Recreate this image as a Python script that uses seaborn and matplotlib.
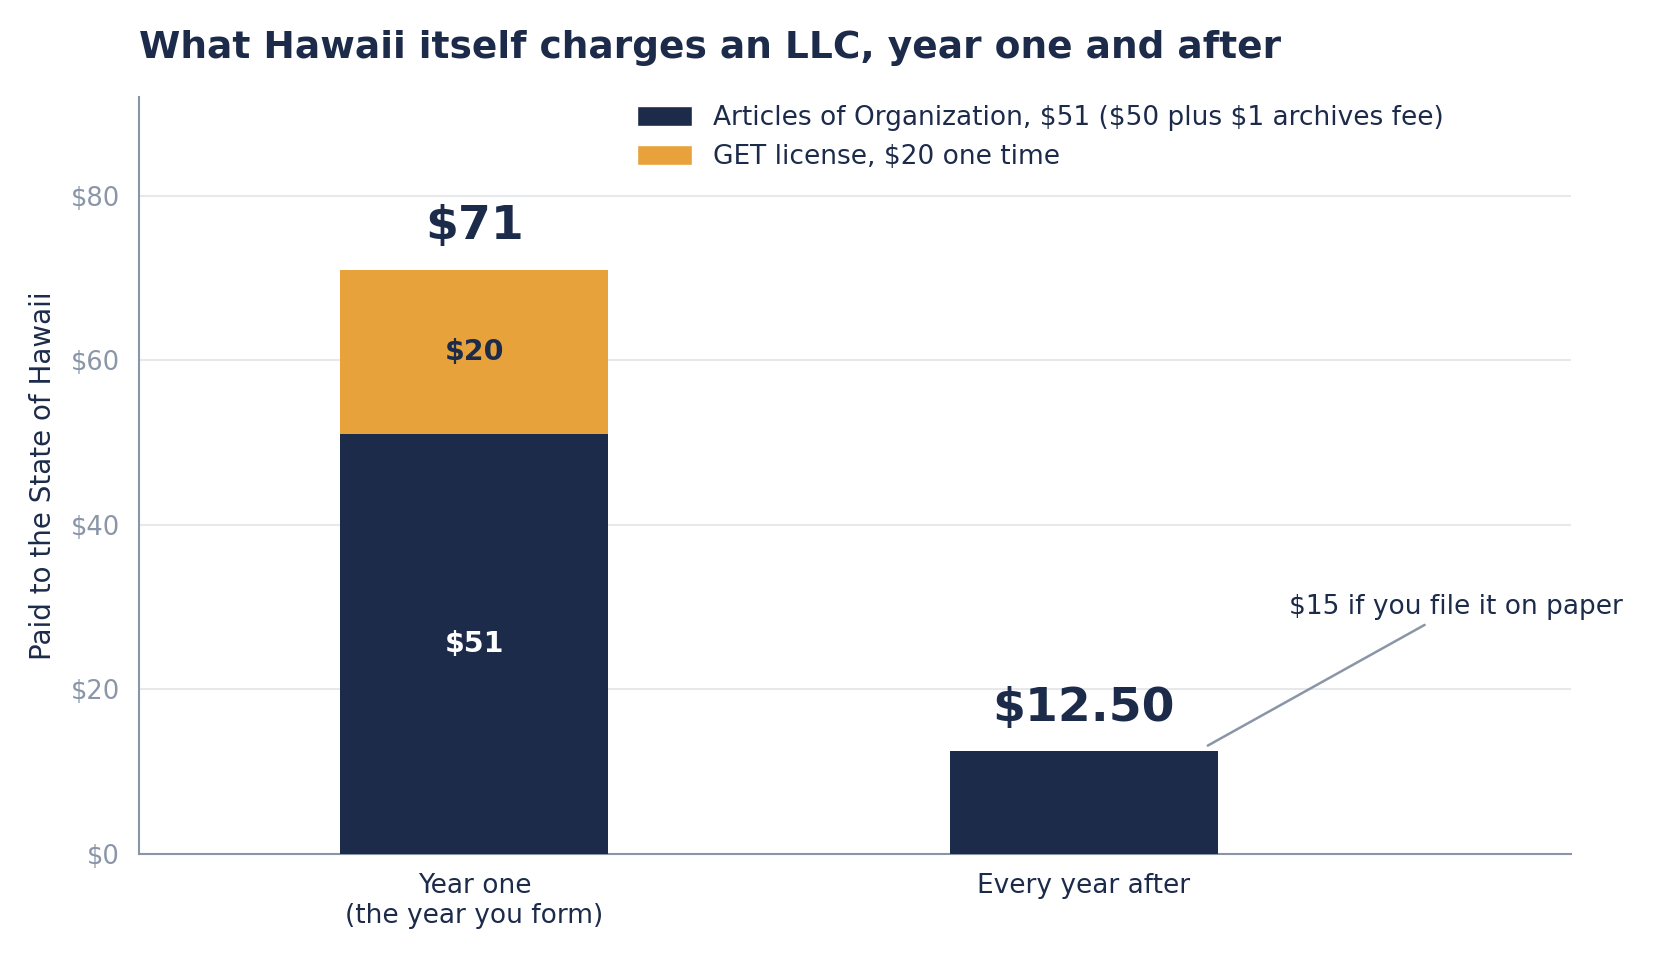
import matplotlib
matplotlib.use("Agg")
import matplotlib.pyplot as plt
import seaborn as sns
from matplotlib.patches import Patch

# data
categories = ["Year one\n(the year you form)", "Every year after"]
state_fees = [51, 12.5]
get_license = [20, 0]
legend_labels = ["Articles of Organization, $51 ($50 plus $1 archives fee)",
                 "GET license, $20 one time"]
total_labels = ["$71", "$12.50"]
y_ticks = [0, 20, 40, 60, 80]

NAVY = "#1d2b4b"
ORANGE = "#e8a23c"
GREY = "#8a96a8"
GRID = "#e6e8ec"

totals = [a + b for a, b in zip(state_fees, get_license)]

sns.set_style("white")
plt.rcParams["font.family"] = ["DejaVu Sans"]

fig = plt.figure(figsize=(16.8, 9.6), dpi=100)
ax = fig.add_axes([0.083, 0.1105, 0.852, 0.7885])

# orange totals underneath, navy base fee drawn on top
sns.barplot(x=categories, y=totals, color=ORANGE, saturation=1, width=0.44, ax=ax,
            zorder=2, linewidth=0)
sns.barplot(x=categories, y=state_fees, color=NAVY, saturation=1, width=0.44, ax=ax,
            zorder=3, linewidth=0)

ax.set_xlim(-0.55, 1.8)
ax.set_ylim(0, 92)
ax.set_yticks(y_ticks)
ax.set_yticklabels([f"${v}" for v in y_ticks])
ax.yaxis.grid(True, color=GRID, lw=1.5, zorder=0)
ax.set_axisbelow(True)

for side in ["top", "right"]:
    ax.spines[side].set_visible(False)
for side in ["left", "bottom"]:
    ax.spines[side].set_color(GREY)
    ax.spines[side].set_linewidth(1.5)

ax.tick_params(axis="y", colors=GREY, labelsize=18.5, length=6, width=1.2, pad=8)
ax.tick_params(axis="x", colors=GREY, labelcolor=NAVY, labelsize=19, length=6, width=1.2, pad=8)
ax.set_ylabel("Paid to the State of Hawaii", fontsize=20, color=NAVY, labelpad=10)
ax.set_xlabel("")

# labels inside and above bars
for i, (base, extra, tot) in enumerate(zip(state_fees, get_license, totals)):
    if extra > 0:
        ax.text(i, base / 2, f"${base}", ha="center", va="center", color="white",
                fontsize=20.5, fontweight="bold", zorder=4)
        ax.text(i, base + extra / 2, f"${extra}", ha="center", va="center", color=NAVY,
                fontsize=20.5, fontweight="bold", zorder=4)
    ax.text(i, tot + 2.5, total_labels[i], ha="center", va="bottom", color=NAVY,
            fontsize=34, fontweight="bold")

ax.annotate("$15 if you file it on paper", xy=(1.2, 13), xytext=(1.612, 28.4),
            textcoords="data", ha="center", va="bottom", fontsize=19, color=NAVY,
            arrowprops=dict(arrowstyle="-", color=GREY, lw=1.8))

handles = [Patch(facecolor=NAVY), Patch(facecolor=ORANGE)]
ax.legend(handles, legend_labels, loc="upper left", bbox_to_anchor=(0.342, 1.0),
          frameon=False, fontsize=19, handlelength=2.1, handleheight=0.8,
          handletextpad=0.8, labelspacing=0.5, borderaxespad=0, borderpad=0.3,
          labelcolor=NAVY)

fig.text(139 / 1680, 1 - 58 / 960, "What Hawaii itself charges an LLC, year one and after",
         fontsize=27, fontweight="bold", color=NAVY, ha="left", va="baseline")

fig.savefig("out.png", dpi=100)
